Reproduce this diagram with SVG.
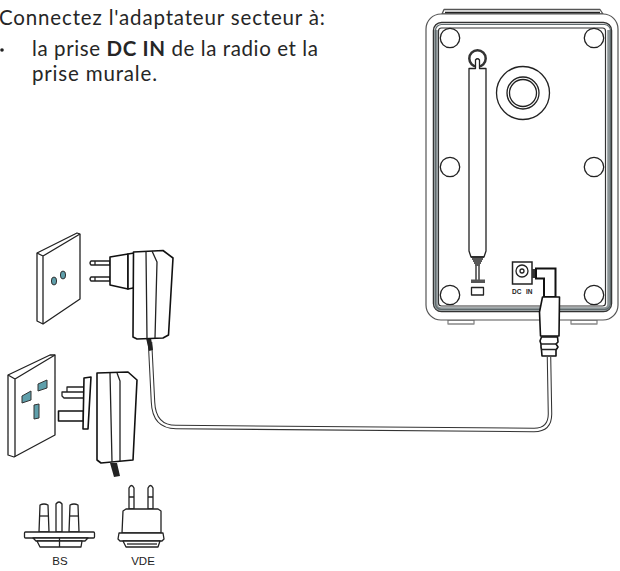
<svg xmlns="http://www.w3.org/2000/svg" width="620" height="571" viewBox="0 0 620 571">
<style>
.t{font-family:"Lato","Open Sans",sans-serif;font-size:20.500px;font-weight:400;fill:#262626}
.l{font-family:"Liberation Sans",Arial,sans-serif;font-size:11.500px;fill:#222;text-anchor:middle}
.s{fill:#fff;stroke:#222;stroke-width:1.300;stroke-linejoin:round}
.n{fill:none;stroke:#222;stroke-width:1.300;stroke-linejoin:round}
.th{fill:#fff;stroke:#111;stroke-width:1.600;stroke-linejoin:round}
.g{fill:none;stroke:#5f6a6d;stroke-width:1.200}
.h{fill:#5f9fab;stroke:#333;stroke-width:1}
.d{font-family:"Liberation Sans",Arial,sans-serif;font-size:6.500px;font-weight:700;fill:#222}
</style>
<rect width="620" height="571" fill="#fff"/>
<g id="instructions">
<text class="t" x="-1" y="25" textLength="326" lengthAdjust="spacing">Connectez l'adaptateur secteur à:</text>
<circle cx="2" cy="50" r="1.800" fill="#222"/>
<text class="t" x="32" y="56" textLength="286" lengthAdjust="spacing">la prise <tspan font-weight="700">DC IN</tspan> de la radio et la</text>
<text class="t" x="32" y="81" textLength="125" lengthAdjust="spacing">prise murale.</text>
</g>
<g id="radio">
<path class="s" d="M442 14 L444 9.500 H600 L603 14 Z" style="stroke:#555"/>
<path class="n" d="M445 12.500 H600"/>
<rect class="s" x="448" y="320" width="26" height="4" style="stroke:#888"/>
<rect class="s" x="571" y="320" width="26" height="4" style="stroke:#888"/>
<rect x="426" y="14" width="192" height="306" rx="15" fill="#fff" stroke="#555" stroke-width="1.200"/>
<rect x="433.500" y="22.500" width="178" height="289" rx="8" fill="#fff" stroke="#333" stroke-width="1.500"/>
<path d="M436 30 V304 Q436 309 441 309 H604 Q609 309 609 304 V30" fill="none" stroke="#8b9496" stroke-width="3.500"/>
<rect class="g" x="435.500" y="24.500" width="175" height="285" rx="6"/>
<rect x="438.500" y="28" width="167" height="278" rx="3" fill="#fff" stroke="#333" stroke-width="1.200"/>
<circle class="s" cx="450" cy="38" r="9.700"/>
<circle class="s" cx="594" cy="38" r="9.700"/>
<circle class="s" cx="450" cy="167" r="9.700"/>
<circle class="s" cx="594" cy="167" r="9.700"/>
<circle class="s" cx="450" cy="295" r="9.700"/>
<circle class="s" cx="594" cy="295" r="9.700"/>
<circle class="s" cx="523" cy="93" r="26.500" stroke-width="1.500"/>
<circle class="s" cx="523" cy="93" r="16"/>
<circle class="s" cx="523" cy="93" r="13.500"/>
<circle cx="477.500" cy="58.500" r="8.200" fill="#fff" stroke="#333" stroke-width="2.500"/>
<path class="s" d="M469 68.500 H475.500 V60 Q477.500 57.500 479.500 60 V68.500 H486 V251 L484 257 H471 L469 251 Z"/>
<path class="n" d="M471 257 H484 M472 259 H483 M473 261 H482 M474 263 H481 M475 265 H480"/>
<path class="s" d="M476 266 V280 M479 266 V280"/>
<rect x="471" y="279.500" width="14" height="3.500" fill="#555"/>
<rect class="s" x="471.500" y="287.500" width="12" height="7.500"/>
<rect x="512.500" y="262" width="19.500" height="22" fill="#fff" stroke="#222" stroke-width="1.500"/>
<circle class="s" cx="522" cy="271" r="6"/>
<circle class="s" cx="522" cy="271" r="2"/>
<text class="d" x="512" y="294">DC</text>
<text class="d" x="526" y="294">IN</text>
</g>
<g id="connectors">
<path d="M150 342 L153 402 Q154 427 176 427 L534 430 Q550 430 550 414 L549 357" fill="none" stroke="#333" stroke-width="4.500"/>
<path d="M150 342 L153 402 Q154 427 176 427 L534 430 Q550 430 550 414 L549 357" fill="none" stroke="#fff" stroke-width="2.400"/>
</g>
<g id="dc-plug">
<rect x="532" y="269" width="4" height="9" fill="#333"/>
<path d="M536 268.500 H555.500 V297 H544 V278.500 H536 Z" fill="#fff" stroke="#111" stroke-width="2"/>
<path class="th" d="M542.500 297 H559.500 L559 336 H540.500 L539.500 312 Z"/>
<path class="th" d="M541.500 337 H557.500 L558 342 L556 344 L558 347 L556 350 L556 356 H542 L541.500 350 L541 347 L541 344 L540 341 Z"/>
<path class="n" d="M541 344 H557 M541 349.500 H557"/>
</g>
<g id="wall-socket-vde">
<path class="s" d="M37 253 L77 233 L80 234 V299 L43 324 L37 321 Z"/>
<path class="n" d="M43 256 L80 234 M43 256 V324 M37 253 L43 256"/>
<ellipse class="h" cx="54" cy="281" rx="2.600" ry="4"/>
<ellipse class="h" cx="63" cy="275" rx="2.600" ry="4"/>
</g>
<g id="adapter-vde">
<path d="M146 338 L151 338 L153 350 L149 351 Z" fill="#222"/>
<path class="s" d="M110 261 H91 Q89 263 91 265 H110 Z"/>
<path class="s" d="M110 277 H91 Q89 279 91 281 H110 Z"/>
<path class="n" d="M95 261 V265 M95 277 V281"/>
<path class="th" d="M110 257 L128 254 V289 L110 285 Z"/>
<path class="th" d="M128 254 L134 253 L139 260 L136 284 L133 288 L128 289 Z"/>
<path class="th" d="M133.500 252 L163 250.500 L173 258 L168.500 335 L163 338 L137 339 L133 337 Z"/>
<path class="n" d="M146 251.500 L147 338.500 M152 251 L157 262 L155 338"/>
</g>
<g id="wall-socket-bs">
<path class="s" d="M8 375 L50 355 L55 355 V435 L14 457 L8 455 Z"/>
<path class="n" d="M15 379 L55 355 M15 379 V457 M8 375 L15 379"/>
<path class="h" d="M22 396 L31 391 V400 L22 403 Z"/>
<path class="h" d="M38 384 L47 380 V388 L38 391 Z"/>
<path class="h" d="M34 405 L39 404 V418 L34 419 Z"/>
</g>
<g id="adapter-bs">
<path d="M110 463 L117 463 L120 476 L114 477 Z" fill="#222"/>
<path class="s" d="M67 387 H86 V393 H67 Z"/>
<path class="s" d="M62 392 H84 V398 H64 L62 396 Z"/>
<rect class="th" x="58.500" y="411" width="25" height="10"/>
<path class="th" d="M84 378 L91 377 L88 429 L83 429 Z"/>
<path class="th" d="M97 373 L128 372 L137 380 L133 460 L101 463 L97 460 Z"/>
<path class="n" d="M110 373 L112 462 M117 373 L120 381 L120 461"/>
</g>
<g id="plug-bs">
<path class="s" d="M40 505 Q44 503 48 505 L49 532 H39 Z"/>
<path class="n" d="M39 516 H49"/>
<path class="s" d="M56 504 Q59 500 62 504 V532 H56 Z"/>
<path class="s" d="M70 505 Q74 503 78 505 L79 532 H69 Z"/>
<path class="n" d="M69 516 H79"/>
<rect class="s" x="24.500" y="532" width="70" height="6" rx="1"/>
<path class="s" d="M33 538 H88 L85 541 H36 Z"/>
<path class="s" d="M37 541 H82 L81 547 H40 Z"/>
<path class="n" d="M59.500 538 V547"/>
<text class="l" x="60" y="565">BS</text>
</g>
<g id="plug-vde">
<path class="s" d="M129 509 V488 Q131.500 483 134 488 V509 Z"/>
<path class="s" d="M148 509 V488 Q150.500 483 153 488 V509 Z"/>
<path class="n" d="M129 497 H134 M148 497 H153"/>
<path class="s" d="M123 511 L126 509 H158 L161 511 V533 H122 Z"/>
<path class="s" d="M119 533 H163 L164 539 L162 541 H120 L118 539 Z" stroke-width="1.600"/>
<path class="s" d="M123 541 H160 L158 547 H126 Z"/>
<path class="n" d="M127 544 H157"/>
<text class="l" x="143" y="565">VDE</text>
</g>
</svg>
